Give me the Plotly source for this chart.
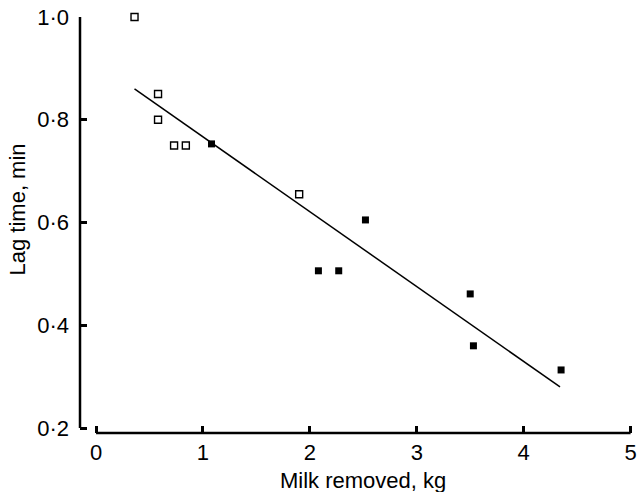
import plotly.graph_objects as go

# Data
open_x = [0.36, 0.58, 0.58, 0.73, 0.84, 1.90]
open_y = [1.00, 0.85, 0.80, 0.75, 0.75, 0.655]
filled_x = [1.08, 2.08, 2.27, 2.52, 3.50, 3.53, 4.35]
filled_y = [0.753, 0.506, 0.506, 0.605, 0.461, 0.36, 0.313]
fit_x = [0.36, 4.34]
fit_y = [0.86, 0.28]

x_ticks = [0, 1, 2, 3, 4, 5]
y_ticks = [0.2, 0.4, 0.6, 0.8, 1.0]
y_tick_labels = ["0·2", "0·4", "0·6", "0·8", "1·0"]
x_title = "Milk removed, kg"
y_title = "Lag time, min"

FONT = "Liberation Sans, Arial, Helvetica, sans-serif"
FS = 22

fig = go.Figure()
fig.add_trace(go.Scatter(x=fit_x, y=fit_y, mode="lines",
                         line=dict(color="black", width=1.5), showlegend=False,
                         cliponaxis=False))
fig.add_trace(go.Scatter(x=open_x, y=open_y, mode="markers",
                         marker=dict(symbol="square-open", size=7, color="black",
                                     line=dict(width=1.4, color="black")),
                         showlegend=False, cliponaxis=False))
fig.add_trace(go.Scatter(x=filled_x, y=filled_y, mode="markers",
                         marker=dict(symbol="square", size=7, color="black"),
                         showlegend=False, cliponaxis=False))

# Axis lines (separated, as in the reference)
fig.add_shape(type="line", xref="paper", yref="y", x0=0, x1=0,
              y0=y_ticks[0], y1=y_ticks[-1], line=dict(color="black", width=2.5))
fig.add_shape(type="line", xref="x", yref="paper", x0=x_ticks[0], x1=x_ticks[-1],
              y0=0, y1=0, line=dict(color="black", width=2.5))

# Axis titles
fig.add_annotation(text=x_title, xref="x", x=(x_ticks[0] + x_ticks[-1]) / 2,
                   yref="paper", y=-0.113, xanchor="center", yanchor="middle",
                   showarrow=False, font=dict(size=FS))
fig.add_annotation(text=y_title, xref="paper", x=-0.1125, yref="y", y=0.626,
                   xanchor="center", yanchor="middle", textangle=-90,
                   showarrow=False, font=dict(size=FS))

fig.update_layout(
    width=637, height=492,
    margin=dict(l=80, r=0, t=17, b=59),
    plot_bgcolor="white", paper_bgcolor="white",
    font=dict(family=FONT, size=FS, color="black"),
    xaxis=dict(
        range=[-0.15, 5.06], tickvals=x_ticks, ticktext=[str(v) for v in x_ticks],
        showline=False,
        ticks="inside", ticklen=7, tickwidth=2.5, tickcolor="black",
        showgrid=False, zeroline=False,
        ticklabelstandoff=4, ticklabeloverflow="allow",
        tickfont=dict(size=FS),
    ),
    yaxis=dict(
        range=[0.1903, 1.0], tickvals=y_ticks, ticktext=y_tick_labels,
        showline=False,
        ticks="inside", ticklen=7, tickwidth=2.5, tickcolor="black",
        showgrid=False, zeroline=False,
        ticklabelstandoff=10,
        tickfont=dict(size=FS),
    ),
)

fig.write_html("out.html")
